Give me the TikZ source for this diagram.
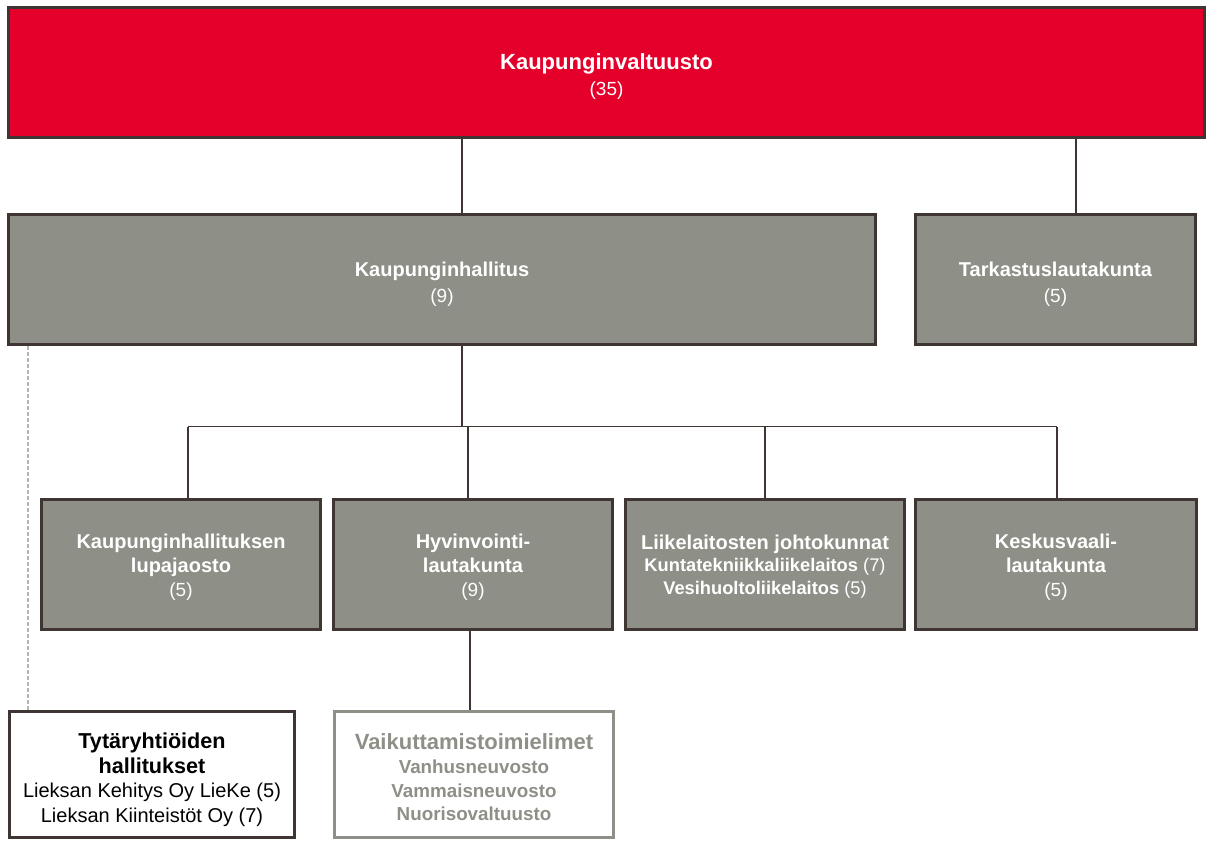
\documentclass[tikz,border=0pt]{standalone}
\usepackage{fontspec}
\setmainfont{Liberation Sans}
\definecolor{vred}{HTML}{E4002B}
\definecolor{vgrey}{HTML}{8E8F86}
\definecolor{vdark}{HTML}{3F3633}
\definecolor{vdash}{HTML}{B4B4B4}
\newcommand\fsA{\fontsize{22}{26}\selectfont\bfseries}
\newcommand\fsB{\fontsize{20}{24}\selectfont\bfseries}
\newcommand\fsN{\fontsize{19}{24}\selectfont\mdseries}
\newcommand\fsS{\fontsize{18.3}{22}\selectfont\bfseries}
\newcommand\fsR{\fontsize{20}{24}\selectfont\mdseries}
\newcommand\fsV{\fontsize{18.8}{23}\selectfont\bfseries}
\begin{document}
\begin{tikzpicture}[x=1pt,y=-1pt,
 box/.style={draw=vdark, line width=3pt, fill=vgrey, inner sep=0pt, minimum height=130pt},
 txt/.style={align=center, inner sep=0pt, text=white},
 conn/.style={draw=vdark, line width=1.6pt},
 dashconn/.style={draw=vdash, line width=1.2pt, dash pattern=on 4pt off 2pt},
]
\useasboundingbox (0,0) rectangle (1207,841);
\coordinate (c1) at (462,0);
\coordinate (c2) at (1076,0);
\coordinate (bl) at (188,426.5);
\coordinate (bm) at (462,426.5);
\coordinate (b2) at (468,426.5);
\coordinate (b3) at (765,426.5);
\coordinate (br) at (1057,426.5);
\coordinate (hv) at (470,0);
\coordinate (dl) at (28,0);

\node[box, fill=vred, minimum width=1196pt,
 label={[txt, yshift=-3.5pt, font=\fontsize{22}{26}\selectfont]center:{\fsA Kaupunginvaltuusto\\ \fsN (35)}}]
 (val) at (606.5,72.5) {};
\node[box, minimum width=867pt,
 label={[txt, yshift=-4.5pt, font=\fontsize{20}{26}\selectfont]center:{\fsB Kaupunginhallitus\\ \fsN (9)}}]
 (kh) at (442,279.5) {};
\node[box, minimum width=280pt,
 label={[txt, yshift=-4.5pt, font=\fontsize{20}{26}\selectfont]center:{\fsB Tarkastuslautakunta\\ \fsN (5)}}]
 (tark) at (1055.5,279.5) {};

\node[box, minimum width=279pt,
 label={[txt, yshift=-2.5pt, font=\fontsize{20}{24}\selectfont]center:{\fsB Kaupunginhallituksen\\ \fsB lupajaosto\\ \fsN (5)}}]
 (k1) at (181,564.5) {};
\node[box, minimum width=279pt,
 label={[txt, yshift=-2.5pt, font=\fontsize{20}{24}\selectfont]center:{\fsB Hyvinvointi-\\ \fsB lautakunta\\ \fsN (9)}}]
 (k2) at (473,564.5) {};
\node[box, minimum width=279pt,
 label={[txt, yshift=-2pt, font=\fontsize{20}{22.5}\selectfont]center:{\fsB Liikelaitosten johtokunnat\\
  \fsS Kuntatekniikkaliikelaitos \mdseries(7)\\
  \fsS Vesihuoltoliikelaitos \mdseries(5)}}]
 (k3) at (765,564.5) {};
\node[box, minimum width=281pt,
 label={[txt, yshift=-2.5pt, font=\fontsize{20}{24}\selectfont]center:{\fsB Keskusvaali-\\ \fsB lautakunta\\ \fsN (5)}}]
 (k4) at (1056,564.5) {};

\node[box, fill=white, minimum width=285pt, minimum height=126pt,
 label={[txt, text=black, yshift=-5pt, font=\fontsize{20}{24.5}\selectfont]center:{\fontsize{21.6}{24.5}\selectfont\bfseries Tytäryhtiöiden\\
  \fontsize{21.6}{24.5}\selectfont\bfseries hallitukset\\
  \fsR Lieksan Kehitys Oy LieKe (5)\\
  \fsR Lieksan Kiinteistöt Oy (7)}}]
 (tyt) at (152,774.5) {};
\node[box, fill=white, draw=vgrey, minimum width=279pt, minimum height=126pt,
 label={[txt, text=vgrey, yshift=-3pt, font=\fontsize{20}{23.7}\selectfont]center:{\fsA Vaikuttamistoimielimet\\ \fsV Vanhusneuvosto\\ \fsV Vammaisneuvosto\\ \fsV Nuorisovaltuusto}}]
 (vaik) at (474,774.5) {};

\draw[conn] (val.south -| c1) -- (kh.north -| c1);
\draw[conn] (val.south -| c2) -- (tark.north -| c2);
\draw[conn] (kh.south -| bm) -- (bm);
\draw[conn] (bl) -- (br);
\draw[conn] (bl) -- (bl |- k1.north);
\draw[conn] (b2) -- (b2 |- k2.north);
\draw[conn] (b3) -- (b3 |- k3.north);
\draw[conn] (br) -- (br |- k4.north);
\draw[conn] (k2.south -| hv) -- (vaik.north -| hv);
\draw[dashconn] (kh.south -| dl) -- (tyt.north -| dl);
\end{tikzpicture}
\end{document}
